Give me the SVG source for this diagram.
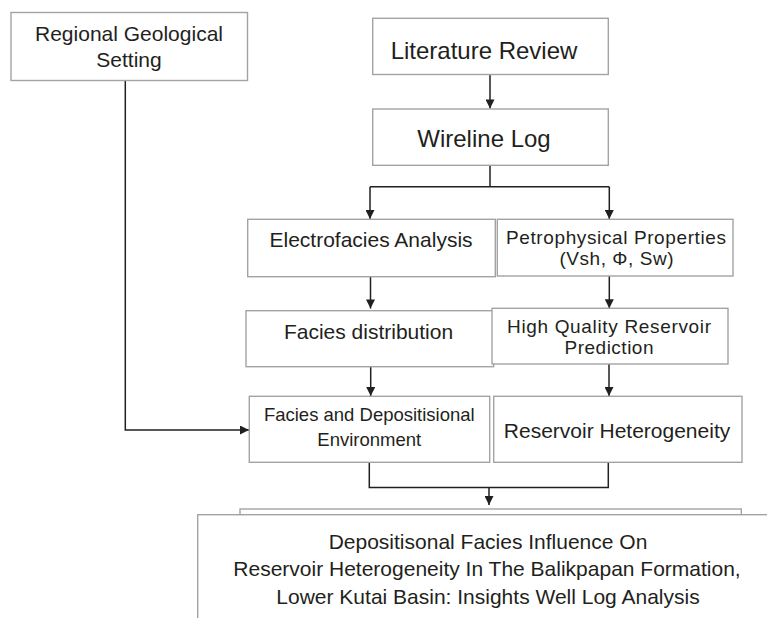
<svg xmlns="http://www.w3.org/2000/svg" width="767" height="618" viewBox="0 0 767 618">
<style>
.box{fill:#ffffff;stroke:#a3a3a3;stroke-width:1.4}
.con{fill:none;stroke:#231f20;stroke-width:1.5}
.t{font-family:"Liberation Sans",Arial,sans-serif;fill:#231f20;text-anchor:middle}
</style>
<defs>
<marker id="ah" viewBox="0 0 10 10" refX="10" refY="5" markerWidth="10" markerHeight="9" markerUnits="userSpaceOnUse" orient="auto">
<path d="M0,0 L10,5 L0,10 z" fill="#231f20"/>
</marker>
</defs>
<rect width="767" height="618" fill="#ffffff"/>
<g id="connectors">
<path class="con" d="M490 74.5 V108.5" marker-end="url(#ah)"/>
<path class="con" d="M490 165.3 V186.7"/>
<path class="con" d="M370 186.7 H609.3"/>
<path class="con" d="M370 186.7 V219" marker-end="url(#ah)"/>
<path class="con" d="M609.3 186.7 V219" marker-end="url(#ah)"/>
<path class="con" d="M370.5 276.7 V308.5" marker-end="url(#ah)"/>
<path class="con" d="M609.3 276 V308.3" marker-end="url(#ah)"/>
<path class="con" d="M370.7 366.7 V396" marker-end="url(#ah)"/>
<path class="con" d="M609 364 V396" marker-end="url(#ah)"/>
<path class="con" d="M125.3 80.7 V430 H249" marker-end="url(#ah)"/>
<path class="con" d="M369.3 462.3 V487.5 H608.3 V462.3"/>
<path class="con" d="M489 487.5 V505" marker-end="url(#ah)"/>
</g>
<g id="regional">
<rect class="box" x="11" y="12.5" width="236.5" height="68"/>
<text class="t" font-size="21" x="129" y="40.5">Regional Geological</text>
<text class="t" font-size="21" x="129" y="66.5">Setting</text>
</g>
<g id="literature">
<rect class="box" x="372.7" y="18.3" width="235.6" height="56.2"/>
<text class="t" font-size="24" x="484" y="58.5">Literature Review</text>
</g>
<g id="wireline">
<rect class="box" x="372.7" y="109" width="235.6" height="56.3"/>
<text class="t" font-size="24" x="484" y="147.3">Wireline Log</text>
</g>
<g id="electrofacies">
<rect class="box" x="247.7" y="219.3" width="247.6" height="57.4"/>
<text class="t" font-size="21" x="371" y="247.3">Electrofacies Analysis</text>
</g>
<g id="petrophysical">
<rect class="box" x="497.3" y="219.3" width="235.7" height="56.7"/>
<text class="t" font-size="19" x="616" y="243.5" textLength="220">Petrophysical Properties</text>
<text class="t" font-size="19" x="616.5" y="265" textLength="114">(Vsh, Φ, Sw)</text>
</g>
<g id="facies-distribution">
<rect class="box" x="246" y="310.7" width="247.7" height="56"/>
<text class="t" font-size="21" x="368.5" y="338.7">Facies distribution</text>
</g>
<g id="high-quality">
<rect class="box" x="492" y="308.3" width="236" height="55.7"/>
<text class="t" font-size="19" x="609" y="332.5" textLength="204">High Quality Reservoir</text>
<text class="t" font-size="19" x="609" y="354" textLength="89">Prediction</text>
</g>
<g id="facies-depositional">
<rect class="box" x="249.3" y="396.3" width="240.4" height="66"/>
<text class="t" font-size="18.5" x="369.3" y="421.3">Facies and Depositisional</text>
<text class="t" font-size="18.5" x="369.3" y="445.7">Environment</text>
</g>
<g id="reservoir-heterogeneity">
<rect class="box" x="493.7" y="396.3" width="248.3" height="66"/>
<text class="t" font-size="21" x="617" y="438">Reservoir Heterogeneity</text>
</g>
<g id="final">
<rect class="box" x="240" y="509" width="501.3" height="200"/>
<rect class="box" x="197.7" y="514.7" width="600" height="200"/>
<text class="t" font-size="21" x="488" y="548.7">Depositisonal Facies Influence On</text>
<text class="t" font-size="21" x="487" y="576.3">Reservoir Heterogeneity In The Balikpapan Formation,</text>
<text class="t" font-size="21" x="488" y="603.7">Lower Kutai Basin: Insights Well Log Analysis</text>
</g>
</svg>
